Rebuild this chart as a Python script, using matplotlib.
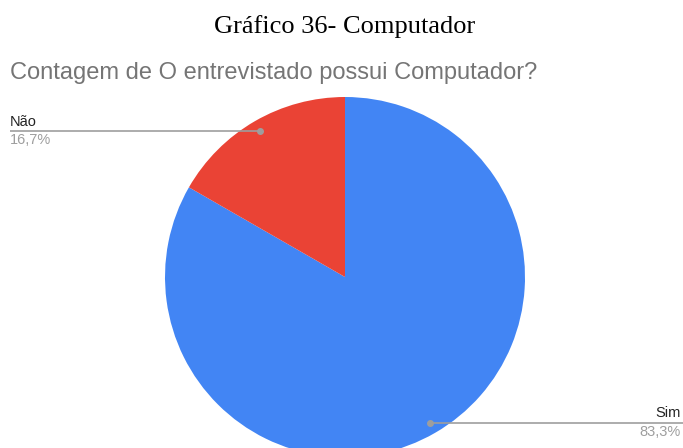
import matplotlib
matplotlib.use("Agg")
import matplotlib.pyplot as plt

categories = ["Sim", "Não"]
values = [83.3, 16.7]
pct_labels = ["83,3%", "16,7%"]
colors = ["#4285f4", "#ea4335"]

W, H = 683, 448
fig = plt.figure(figsize=(W / 100, H / 100), dpi=100)
ax = fig.add_axes([0, 0, 1, 1])

cx, cy, r = 345, H - 277, 180
wedges, _ = ax.pie(values, colors=colors, startangle=90, counterclock=False,
                   center=(cx, cy), radius=r, frame=True)
ax.set_xlim(0, W)
ax.set_ylim(0, H)
ax.set_aspect("equal")
ax.axis("off")

fig.text(345 / W, 1 - 27 / H, "Gráfico 36- Computador", ha="center", va="center",
         fontsize=19, family="Liberation Serif", color="black")
fig.text(10 / W, 1 - 73 / H, "Contagem de O entrevistado possui Computador?",
         ha="left", va="center", fontsize=17, family="Liberation Sans", color="#757575")

# Não label
ax.plot([10, 260], [H - 131, H - 131], color="#9e9e9e", lw=1.2, solid_capstyle="butt")
ax.plot([260], [H - 131], "o", color="#9e9e9e", ms=4)
ax.text(10, H - 122, categories[1], ha="left", va="center", fontsize=10.5,
        family="Liberation Sans", color="#222222")
ax.text(10, H - 140, pct_labels[1], ha="left", va="center", fontsize=10.5,
        family="Liberation Sans", color="#9e9e9e")

# Sim label
ax.plot([430, 683], [H - 423, H - 423], color="#9e9e9e", lw=1.2, solid_capstyle="butt")
ax.plot([430], [H - 423], "o", color="#9e9e9e", ms=4)
ax.text(681, H - 413, categories[0], ha="right", va="center", fontsize=10.5,
        family="Liberation Sans", color="#222222")
ax.text(681, H - 432, pct_labels[0], ha="right", va="center", fontsize=10.5,
        family="Liberation Sans", color="#9e9e9e")

fig.savefig("out.png", dpi=100, facecolor="white")
